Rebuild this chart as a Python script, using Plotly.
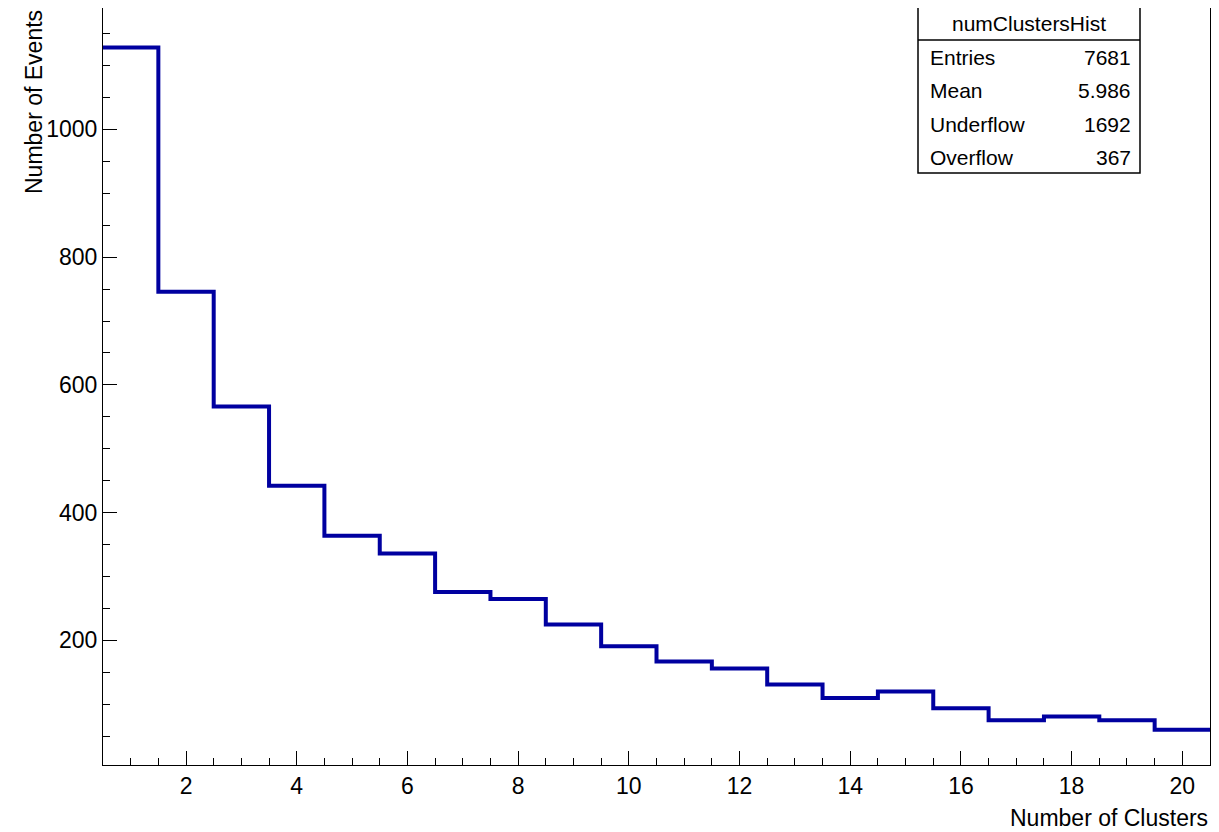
import plotly.graph_objects as go

# histogram of number of clusters, bins of width 1 centred on integers
bin_edges = [b + 0.5 for b in range(0, 21)]
counts = [1128, 746, 566, 442, 364, 336, 276, 265, 225, 191,
          167, 156, 131, 110, 120, 94, 75, 81, 75, 60]
stats_labels = ["Entries", "Mean", "Underflow", "Overflow"]
stats_values = ["7681", "5.986", "1692", "367"]

fig = go.Figure()
fig.add_trace(go.Scatter(x=bin_edges, y=counts + [counts[-1]], mode="lines",
                         line=dict(color="#0000a0", width=4, shape="hv"),
                         showlegend=False, hoverinfo="skip"))

# page has an 8px body margin, so work in page pixels and shift
OFF = 8
W, H = 1219 - 2 * OFF, 832 - OFF
L, R, T, B = 103 - OFF, 1, 0, 832 - 765
pw, ph = W - L - R, H - T - B

def px(x): return (x - OFF - L) / pw
def py(y): return (H - B - (y - OFF)) / ph

axis = dict(showgrid=False, zeroline=False, showline=True, mirror=True,
            linecolor="black", linewidth=1, ticks="inside", ticklen=14,
            tickcolor="black", tickfont=dict(size=23, color="black"))
fig.update_xaxes(range=[0.5, 20.5], dtick=2, tick0=0,
                 minor=dict(dtick=0.5, ticks="inside", ticklen=7, tickcolor="black"), **axis)
fig.update_yaxes(range=[5, 1190], dtick=200, tick0=0,
                 minor=dict(dtick=50, ticks="inside", ticklen=7, tickcolor="black"), **axis)

bx0, bx1 = 918, 1140
shapes = [dict(type="rect", xref="paper", yref="paper", x0=px(bx0), x1=px(bx1),
               y0=py(173), y1=py(5), line=dict(color="black", width=1.5), fillcolor="white"),
          dict(type="line", xref="paper", yref="paper", x0=px(bx0), x1=px(bx1),
               y0=py(40), y1=py(40), line=dict(color="black", width=1.5))]
ann = [dict(text="numClustersHist", x=px((bx0 + bx1) / 2), y=py(23), xref="paper", yref="paper",
            xanchor="center", yanchor="middle", showarrow=False, font=dict(size=21))]
for i, (lab, val) in enumerate(zip(stats_labels, stats_values)):
    yy = py(58 + i * 33)
    ann.append(dict(text=lab, x=px(bx0 + 10), y=yy, xref="paper", yref="paper",
                    xanchor="left", yanchor="middle", showarrow=False, font=dict(size=21)))
    ann.append(dict(text=val, x=px(bx1 - 7), y=yy, xref="paper", yref="paper",
                    xanchor="right", yanchor="middle", showarrow=False, font=dict(size=21)))
ann.append(dict(text="Number of Clusters", x=1, y=py(818), xref="paper", yref="paper",
                xanchor="right", yanchor="middle", showarrow=False, font=dict(size=23)))
ann.append(dict(text="Number of Events", x=px(34), y=1, xref="paper", yref="paper",
                xanchor="center", yanchor="top", textangle=-90, showarrow=False,
                font=dict(size=23)))

fig.update_layout(width=W, height=H, margin=dict(l=L, r=R, t=T, b=B),
                  plot_bgcolor="white", paper_bgcolor="white",
                  font=dict(family="Liberation Sans, Arial", color="black"),
                  shapes=shapes, annotations=ann)
fig.write_html("out.html")
